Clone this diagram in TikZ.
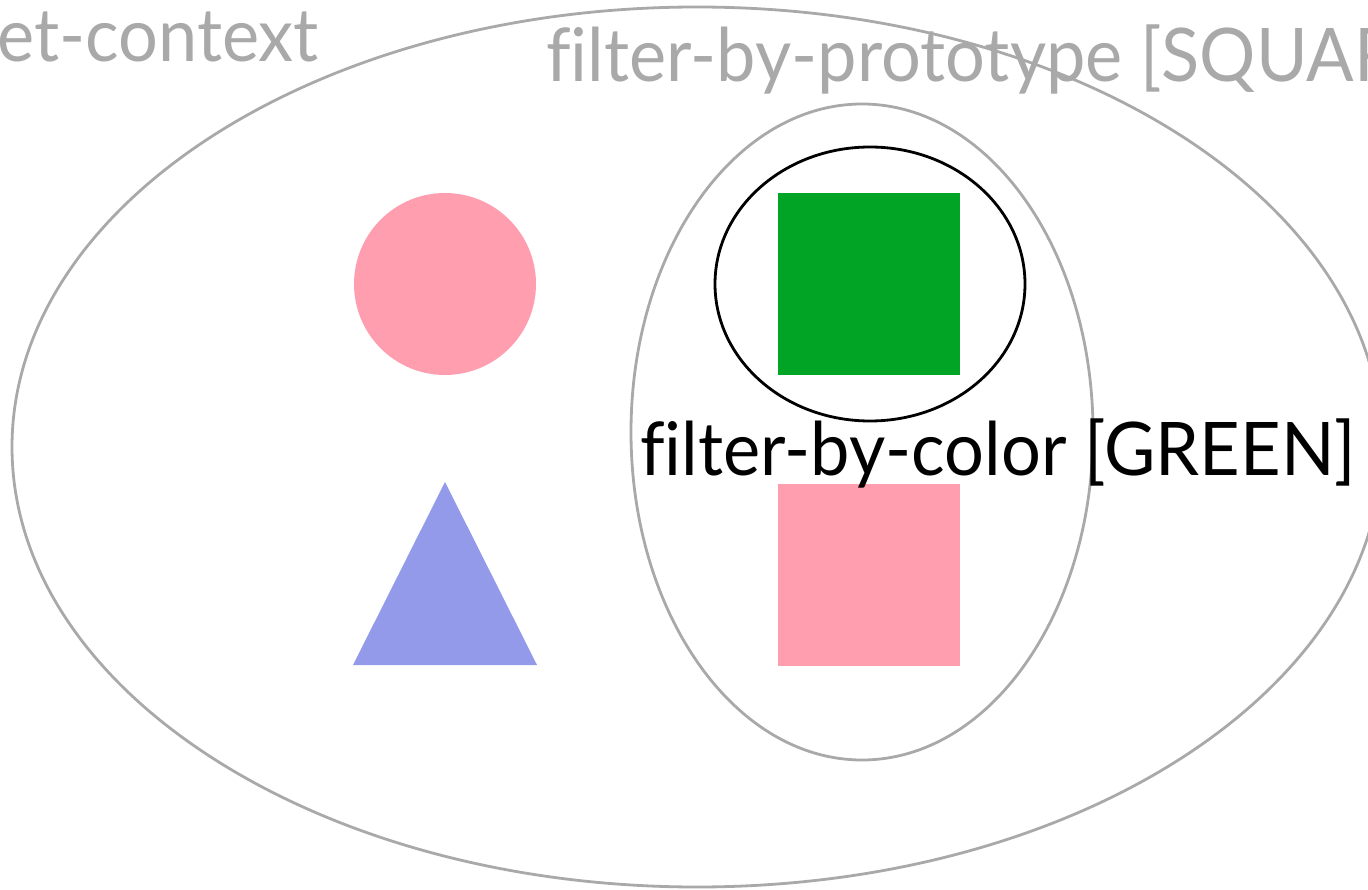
\documentclass[tikz,border=0pt]{standalone}
\usepackage{fontspec}
\setmainfont{Lato}[FakeStretch=0.95, Ligatures=NoCommon]
\definecolor{set-gray}{HTML}{A9A9A9}
\definecolor{shape-pink}{HTML}{FF9EAF}
\definecolor{shape-green}{HTML}{02A426}
\definecolor{shape-blue}{HTML}{949AEA}

\begin{document}
\begin{tikzpicture}[x=1pt, y=-1pt,
    every node/.style={font=\fontsize{74}{88}\selectfont, inner sep=0pt}]
    \useasboundingbox (0, 0) rectangle (1368, 890);
    % sets
    \draw[set-gray, line width=2.8pt] (697, 447) ellipse [x radius=685, y radius=440];
    \draw[set-gray, line width=2.8pt] (862, 432) ellipse [x radius=231, y radius=328];
    \draw[black, line width=2.8pt] (870, 284) ellipse [x radius=155, y radius=137];
    % items
    \node[circle, fill=shape-pink, minimum size=182pt] (c) at (445, 284) {};
    \fill[shape-blue] (445, 482) -- (537, 665) -- (353, 665) -- cycle;
    \node[fill=shape-green, minimum size=182pt] (g) at (869, 284) {};
    \node[fill=shape-pink, minimum size=182pt] (p) at (869, 575) {};
    % labels
    \node[text=set-gray, anchor=base west] (ctx) at (-3, 62) {et-context};
    \node[text=set-gray, anchor=base west] (proto) at (546, 82)
      {filter-by-prototype [SQUARE]};
    \node[text=black, anchor=base west] (col) at (640, 475)
      {filter-by-color [GREEN]};
\end{tikzpicture}
\end{document}
